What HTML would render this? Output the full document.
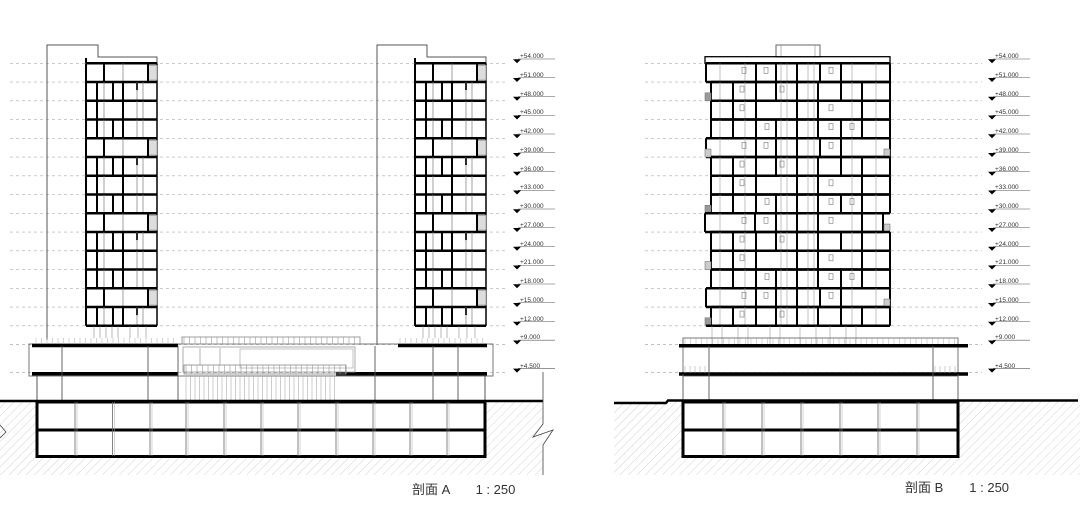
<!DOCTYPE html>
<html><head><meta charset="utf-8"><style>
html,body{margin:0;padding:0;background:#fff;width:1080px;height:506px;overflow:hidden}
svg{display:block}
.lv{font-family:"Liberation Sans",sans-serif;font-size:6.5px;fill:#333}
.tt{font-family:"Liberation Sans","Noto Sans CJK SC",sans-serif;font-size:13px;fill:#333}
</style></head><body>
<svg id="s" width="1080" height="506" viewBox="0 0 1080 506" xmlns="http://www.w3.org/2000/svg">
<defs>
<pattern id="h" width="6" height="6" patternUnits="userSpaceOnUse" patternTransform="rotate(45)">
<line x1="0" y1="0" x2="0" y2="6" stroke="#c8c8c8" stroke-width="0.8"/>
</pattern>
</defs>
<!-- soil -->
<rect x="0" y="401" width="543" height="74" fill="url(#h)"/>
<rect x="614" y="401" width="466" height="74" fill="url(#h)"/>
<rect x="37" y="402" width="448" height="55" fill="#fff"/>
<rect x="683" y="402" width="275" height="55" fill="#fff"/>
<g id="g"></g>
<!-- level labels A -->
<g class="lv">
<text x="520" y="58">+54.000</text><text x="520" y="77">+51.000</text><text x="520" y="96">+48.000</text><text x="520" y="114">+45.000</text><text x="520" y="133">+42.000</text><text x="520" y="152">+39.000</text><text x="520" y="171">+36.000</text><text x="520" y="189">+33.000</text><text x="520" y="208">+30.000</text><text x="520" y="227">+27.000</text><text x="520" y="246">+24.000</text><text x="520" y="264">+21.000</text><text x="520" y="283">+18.000</text><text x="520" y="302">+15.000</text><text x="520" y="321">+12.000</text><text x="520" y="339">+9.000</text><text x="520" y="368">+4.500</text>
<text x="995" y="58">+54.000</text><text x="995" y="77">+51.000</text><text x="995" y="96">+48.000</text><text x="995" y="114">+45.000</text><text x="995" y="133">+42.000</text><text x="995" y="152">+39.000</text><text x="995" y="171">+36.000</text><text x="995" y="189">+33.000</text><text x="995" y="208">+30.000</text><text x="995" y="227">+27.000</text><text x="995" y="246">+24.000</text><text x="995" y="264">+21.000</text><text x="995" y="283">+18.000</text><text x="995" y="302">+15.000</text><text x="995" y="321">+12.000</text><text x="995" y="339">+9.000</text><text x="995" y="368">+4.500</text>
</g>
<text class="tt" x="412" y="494">剖面 A　　1 : 250</text>
<text class="tt" x="905" y="492">剖面 B　　1 : 250</text>
</svg>
<script>
var g=document.getElementById('g'),o='';
function L(x1,y1,x2,y2,w,c,d){o+='<line x1="'+x1+'" y1="'+y1+'" x2="'+x2+'" y2="'+y2+'" stroke="'+(c||'#000')+'" stroke-width="'+(w||1)+'"'+(d?' stroke-dasharray="'+d+'"':'')+'/>';}
function R(x,y,w,h,sw,c,f){o+='<rect x="'+x+'" y="'+y+'" width="'+w+'" height="'+h+'" fill="'+(f||'none')+'" stroke="'+(c||'#000')+'" stroke-width="'+(sw||1)+'"/>';}
var lv=[];for(var i=0;i<=14;i++)lv.push(63.3+i*18.75);lv.push(344.5);lv.push(372.6);
// dashed level lines
lv.forEach(function(y){L(10,y,506,y,0.7,'#aaa','3,3');L(645,y,982,y,0.7,'#aaa','3,3');});
// level markers
lv.forEach(function(y){[[513,543],[988,1018]].forEach(function(p){var x=p[0];o+='<polygon points="'+x+','+(y-4)+' '+(x+8)+','+(y-4)+' '+(x+4)+','+(y)+'" fill="#000"/>';L(x+5,y-4.3,p[1]+12,y-4.3,0.6,'#555');});});
// Tower A
function towerA(dx,wall){
 // wall
 o+='<polyline points="'+(wall)+',340 '+wall+',45 '+(dx+12)+',45 '+(dx+12)+',57 '+(dx+71)+',57 '+(dx+71)+',63" fill="none" stroke="#555" stroke-width="1"/>';
 L(dx,58,dx,63,2);
 for(var i=0;i<14;i++){
  var y1=lv[i],y2=lv[i+1],t=i%4;
  L(dx,y1,dx+71,y1,2.5);
  L(dx+71,y1,dx+71,y2,1.5);L(dx,y1,dx,y2,2);
  var thick,thin;
  if(t==0){thick=[18,62];thin=[37];R(dx+62,y1+2,9,y2-y1-4,0.8,'#999','#ddd');}
  else if(t==1){thick=[11,27,37];thin=[18,51,57];L(dx+51,y1+1,dx+51,y1+8,2);}
  else if(t==2){thick=[11,37];thin=[18,51,57];}
  else {thick=[11,27,37];thin=[18,51,57];}
  thin.forEach(function(x){L(dx+x,y1,dx+x,y2,0.7,'#777');});
  thick.forEach(function(x){L(dx+x,y1,dx+x,y2,2);});
 }
 L(dx,lv[14],dx+71,lv[14],2.5);
 // pilotis
 [8,14,20,26,32,44,52,60].forEach(function(x){L(dx+x,326,dx+x,338,0.6,'#888');});
}
towerA(86,47);towerA(415,377);
L(377,338,377,345,1,'#555');
// podium A
R(29,344,464,32,1,'#777');
L(32,345.5,178,345.5,3.5);L(398,345.5,487,345.5,3.5);
L(32,373.7,178,373.7,3.5);L(336,373.7,487,373.7,3.5);
[62,148,178,375,433,458].forEach(function(x){L(x,346,x,401,0.9,'#555');});
// podium lower walls
L(37,376,37,401,1,'#555');L(485,376,485,401,1,'#555');
// middle lattice
R(182,337,178,7,0.8,'#888');for(var x=184;x<360;x+=5.5)L(x,337,x,344,0.6,'#999');
R(183,347,172,25,0.8,'#999');R(240,349,113,19,0.7,'#aaa');
[200,220].forEach(function(x){L(x,348,x,365,0.7,'#999');});
R(184,365,162,9,0.8,'#888');for(var x=186;x<346;x+=5.5)L(x,365,x,374,0.6,'#999');
for(var x=186;x<336;x+=4.5)L(x,376,x,400,0.6,'#aaa');
for(var x=36;x<176;x+=5.5)L(x,338,x,344,0.5,'#aaa');
for(var x=400;x<488;x+=5.5)L(x,338,x,344,0.5,'#aaa');
// basement A
L(0,401,543,401,2.5);
R(37,402,448,54.5,3);L(37,430,485,430,3);
[75,112.5,150,186,224,261,298,336,373,410,447].forEach(function(x){L(x,402,x,456,0.8,'#666');L(x+2,402,x+2,456,0.5,'#aaa');});
// right cut line
o+='<polyline points="543,372 543,424 533,437 553,430 543,445 543,475" fill="none" stroke="#444" stroke-width="0.8"/>';
o+='<polyline points="0,425 6,432 0,438" fill="none" stroke="#444" stroke-width="0.8"/>';
// Tower B
R(776,45,44,12,0.9,'#555');L(781,45,781,57,0.6,'#888');L(815,45,815,57,0.6,'#888');
R(705,56.7,185,6.6,1.3);
var types=[
 {a:706,b:890,th:[756,776,797,820,841]},
 {a:711,b:890,th:[733,756,776,797,818,841,862]},
 {a:711,b:890,th:[733,756,797,818,862]},
 {a:705,b:883,th:[755,776,797,818,862]}
];
var seq=[0,1,1,1,0,1,1,1,3,1,1,1,0,1];
for(var i=0;i<14;i++){
 var y1=lv[i],y2=lv[i+1],t=types[seq[i]%4];
 if(i%4==2)t=types[2];
 L(t.a,y1,t.b,y1,2.5);L(t.a,y2,t.b,y2,2.5);
 L(t.a,y1,t.a,y2,2);L(t.b,y1,t.b,y2,2);
 [720,745,781,787,808,814,852,876].forEach(function(x){L(x,y1,x,y2,0.6,'#999');});
 t.th.forEach(function(x){L(x,y1,x,y2,2);});
 var wx=[[742,764,829],[740,780],[740,829],[765,829,850]][i%4];
 wx.forEach(function(x){R(x,y1+4,4,6,0.6,'#777');});
 if(i%3==1)R(705,y2-8,6,8,0.6,'#777',i%2?'#999':'#ccc');
 if(i%4==0&&i>0)R(884,y2-8,6,8,0.6,'#777','#ccc');
}
L(706,lv[14],890,lv[14],2.5);
[712,722,738,748,770,780,800,816,830,846,856].forEach(function(x){L(x,326,x,344,0.6,'#999');});
// podium B
R(683,338,275,38,1,'#777');
for(var x=685;x<958;x+=5.5)L(x,338,x,344,0.5,'#aaa');
L(679,345.7,968,345.7,3.5);L(679,374,968,374,3.5);
[709,933].forEach(function(x){L(x,346,x,401,0.9,'#555');});
for(var x=685;x<709;x+=5)L(x,366,x,373,0.5,'#999');for(var x=935;x<958;x+=5)L(x,366,x,373,0.5,'#999');
L(683,374,683,401,0.9,'#555');L(958,374,958,401,0.9,'#555');
// ground B
o+='<polyline points="614,403 666,403 668,400.5 1078,400.5" fill="none" stroke="#000" stroke-width="2.5"/>';
R(683,402,275,54.5,3);L(683,430,958,430,3);
[723,762,801,840,878,917].forEach(function(x){L(x,402,x,456,0.8,'#666');L(x+2,402,x+2,456,0.5,'#aaa');});
g.innerHTML=o;
</script>
</body></html>
